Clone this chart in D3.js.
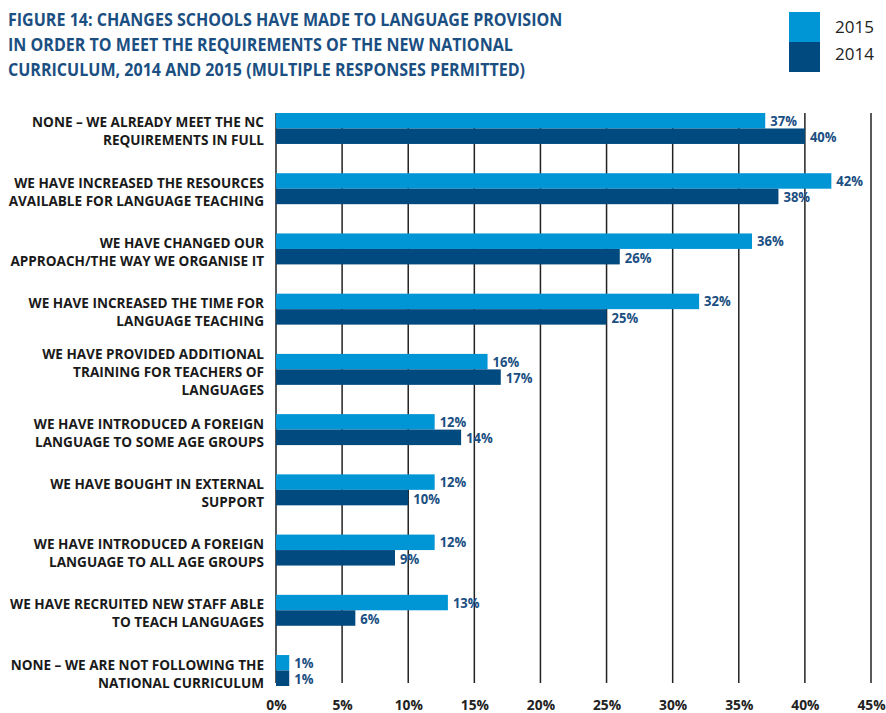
<!DOCTYPE html>
<html>
<head>
<meta charset="utf-8">
<script src="https://cdn.jsdelivr.net/npm/d3@7"></script>
<style>
  body { margin: 0; background: #fff; }
  .chart svg { display: block; }
  text { font-family: "Open Sans", sans-serif; }
</style>
</head>
<body>
<div class="chart"></div>
<script>
var categories = [
  ["NONE \u2013 WE ALREADY MEET THE NC", "REQUIREMENTS IN FULL"],
  ["WE HAVE INCREASED THE RESOURCES", "AVAILABLE FOR LANGUAGE TEACHING"],
  ["WE HAVE CHANGED OUR", "APPROACH/THE WAY WE ORGANISE IT"],
  ["WE HAVE INCREASED THE TIME FOR", "LANGUAGE TEACHING"],
  ["WE HAVE PROVIDED ADDITIONAL", "TRAINING FOR TEACHERS OF", "LANGUAGES"],
  ["WE HAVE INTRODUCED A FOREIGN", "LANGUAGE TO SOME AGE GROUPS"],
  ["WE HAVE BOUGHT IN EXTERNAL", "SUPPORT"],
  ["WE HAVE INTRODUCED A FOREIGN", "LANGUAGE TO ALL AGE GROUPS"],
  ["WE HAVE RECRUITED NEW STAFF ABLE", "TO TEACH LANGUAGES"],
  ["NONE \u2013 WE ARE NOT FOLLOWING THE", "NATIONAL CURRICULUM"]
];
var values2015 = [37, 42, 36, 32, 16, 12, 12, 12, 13, 1];
var values2014 = [40, 38, 26, 25, 17, 14, 10, 9, 6, 1];
var xTicks = [0, 5, 10, 15, 20, 25, 30, 35, 40, 45];
var titleLines = [
  "FIGURE 14: CHANGES SCHOOLS HAVE MADE TO LANGUAGE PROVISION",
  "IN ORDER TO MEET THE REQUIREMENTS OF THE NEW NATIONAL",
  "CURRICULUM, 2014 AND 2015 (MULTIPLE RESPONSES PERMITTED)"
];
var seriesNames = ["2015", "2014"];

var svgWidth = 886;
var svgHeight = 713;
var color2015 = "#0096d6";
var color2014 = "#004a80";
var textBlue = "#1b4f82";

var svg = d3.select(".chart")
  .append("svg")
  .attr("width", svgWidth)
  .attr("height", svgHeight);

// Title (squeezed horizontally to look like the condensed face of the original)
svg.append("g")
  .attr("transform", "translate(8, 0) scale(0.918, 1)")
  .selectAll("text")
  .data(titleLines)
  .enter()
  .append("text")
  .attr("x", 0)
  .attr("y", (d, i) => 26 + i * 25)
  .attr("fill", textBlue)
  .attr("font-size", "17.5px")
  .attr("font-weight", "bold")
  .text(d => d);

// Legend
var legend = svg.append("g");
legend.selectAll("rect")
  .data(seriesNames)
  .enter()
  .append("rect")
  .attr("x", 789)
  .attr("y", (d, i) => 12 + i * 30)
  .attr("width", 31)
  .attr("height", 30)
  .attr("fill", (d, i) => i === 0 ? color2015 : color2014);
legend.selectAll("text")
  .data(seriesNames)
  .enter()
  .append("text")
  .attr("x", 835)
  .attr("y", (d, i) => 33 + i * 27)
  .attr("fill", "#222")
  .attr("font-size", "17px")
  .text(d => d);

// Scales
var x = d3.scaleLinear().domain([0, 45]).range([276, 871]);
var y = d3.scaleBand()
  .domain(d3.range(categories.length))
  .range([113, 686])
  .paddingInner(0.486)
  .paddingOuter(0);
var half = y.bandwidth() / 2;

// Gridlines
svg.append("g").selectAll("line")
  .data(xTicks)
  .enter()
  .append("line")
  .attr("x1", d => x(d))
  .attr("x2", d => x(d))
  .attr("y1", 113)
  .attr("y2", 683)
  .attr("stroke", "#222")
  .attr("stroke-width", 1.5);

// Bottom axis labels
var xAxis = d3.axisBottom(x)
  .tickValues(xTicks)
  .tickSize(0)
  .tickPadding(0)
  .tickFormat(d => d + "%");
var axisG = svg.append("g")
  .attr("transform", "translate(0, 699)")
  .call(xAxis);
axisG.select(".domain").remove();
axisG.selectAll("text")
  .attr("font-family", null)
  .attr("font-size", "15px")
  .attr("font-weight", "bold")
  .attr("fill", "#222")
  .attr("transform", "scale(0.92, 1)");

// Bars
var groups = svg.append("g").selectAll("g")
  .data(categories)
  .enter()
  .append("g")
  .attr("transform", (d, i) => `translate(0, ${y(i)})`);

groups.append("rect")
  .attr("x", x(0))
  .attr("y", 0)
  .attr("width", (d, i) => x(values2015[i]) - x(0))
  .attr("height", half)
  .attr("fill", color2015);

groups.append("rect")
  .attr("x", x(0))
  .attr("y", half)
  .attr("width", (d, i) => x(values2014[i]) - x(0))
  .attr("height", half)
  .attr("fill", color2014);

// Value labels
groups.append("g")
  .attr("transform", (d, i) => `translate(${x(values2015[i]) + 5}, ${half / 2 + 5}) scale(0.9, 1)`)
  .append("text")
  .attr("fill", textBlue)
  .attr("font-size", "14.5px")
  .attr("font-weight", "bold")
  .text((d, i) => values2015[i] + "%");

groups.append("g")
  .attr("transform", (d, i) => `translate(${x(values2014[i]) + 5}, ${half * 1.5 + 6}) scale(0.9, 1)`)
  .append("text")
  .attr("fill", textBlue)
  .attr("font-size", "14.5px")
  .attr("font-weight", "bold")
  .text((d, i) => values2014[i] + "%");

// Category labels
groups.append("g")
  .attr("transform", "translate(264, 0) scale(0.905, 1)")
  .append("text")
  .attr("text-anchor", "end")
  .attr("fill", "#1a1a1a")
  .attr("font-size", "15px")
  .attr("font-weight", "bold")
  .each(function(d) {
    var t = d3.select(this);
    var start = half - (d.length - 1) * 9 + 8;
    d.forEach(function(line, k) {
      t.append("tspan")
        .attr("x", 0)
        .attr("y", start + k * 18)
        .text(line);
    });
  });
</script>
</body>
</html>
